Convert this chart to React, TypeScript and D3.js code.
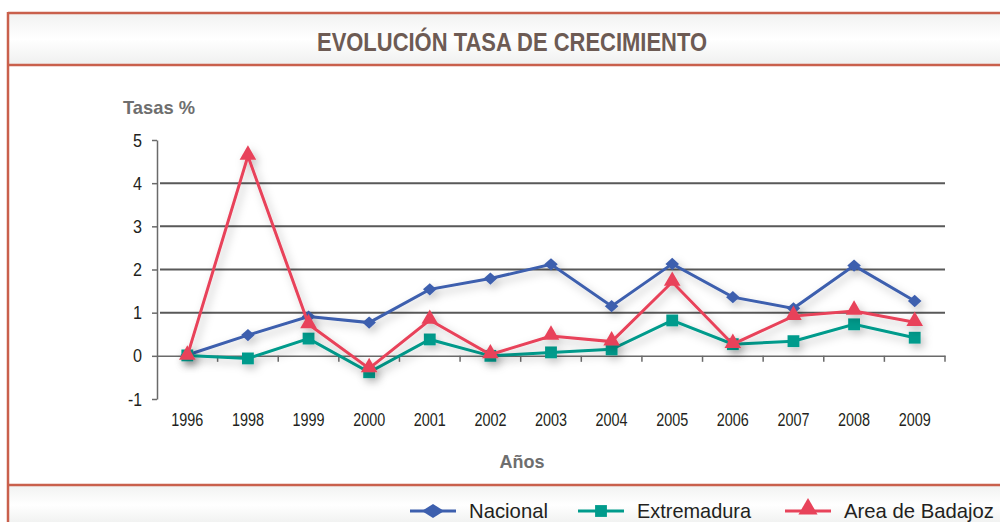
import React, { useEffect, useRef } from 'react';
import * as d3 from 'd3';

const years = ['1996', '1998', '1999', '2000', '2001', '2002', '2003', '2004', '2005', '2006', '2007', '2008', '2009'];
const nacional = [0.02, 0.48, 0.91, 0.77, 1.54, 1.79, 2.12, 1.15, 2.13, 1.36, 1.1, 2.09, 1.27];
const extremadura = [0.01, -0.06, 0.4, -0.38, 0.38, 0.0, 0.08, 0.15, 0.82, 0.27, 0.34, 0.73, 0.42];
const badajoz = [0.0, 4.63, 0.73, -0.29, 0.83, 0.03, 0.46, 0.33, 1.71, 0.27, 0.92, 1.04, 0.78];
const yTicks = [-1, 0, 1, 2, 3, 4, 5];
const gridValues = [1, 2, 3, 4];

const seriesNames = ['Nacional', 'Extremadura', 'Area de Badajoz'];
const seriesColors = ['#3d5fae', '#009b8c', '#e8435a'];

const FONT = "'Liberation Sans', Arial, sans-serif";

// squeezes text into a given width, the source font is a condensed one
const narrow = (sel: any, w: number) => sel.attr('textLength', w).attr('lengthAdjust', 'spacingAndGlyphs');

export default function App() {
  const svgRef = useRef<SVGSVGElement>(null);

  useEffect(() => {
    const svg = d3.select(svgRef.current);
    svg.selectAll('*').remove();

    const W = 1000, H = 522;
    const frame = '#c9604c';

    const defs = svg.append('defs');
    const f = defs.append('filter').attr('id', 'shadow').attr('x', '-20%').attr('y', '-20%').attr('width', '140%').attr('height', '140%');
    f.append('feDropShadow').attr('dx', 3).attr('dy', 4).attr('stdDeviation', 4).attr('flood-color', '#000').attr('flood-opacity', 0.25);

    const bandGrad = defs.append('linearGradient').attr('id', 'band').attr('x1', 0).attr('x2', 0).attr('y1', 0).attr('y2', 1);
    bandGrad.append('stop').attr('offset', '0%').attr('stop-color', '#f1f2f1');
    bandGrad.append('stop').attr('offset', '50%').attr('stop-color', '#ffffff');
    bandGrad.append('stop').attr('offset', '100%').attr('stop-color', '#eff0ef');

    svg.append('rect').attr('width', W).attr('height', H).attr('fill', '#ffffff');
    svg.append('rect').attr('x', 8).attr('y', 13).attr('width', W).attr('height', 52).attr('fill', 'url(#band)');
    svg.append('rect').attr('x', 8).attr('y', 485).attr('width', W).attr('height', 40).attr('fill', 'url(#band)');

    svg.append('line').attr('x1', 8).attr('x2', W).attr('y1', 13).attr('y2', 13).attr('stroke', frame).attr('stroke-width', 2.5);
    svg.append('line').attr('x1', 8).attr('x2', W).attr('y1', 65).attr('y2', 65).attr('stroke', frame).attr('stroke-width', 2.5);
    svg.append('line').attr('x1', 8).attr('x2', W).attr('y1', 485).attr('y2', 485).attr('stroke', frame).attr('stroke-width', 2.5);
    svg.append('line').attr('x1', 8).attr('x2', 8).attr('y1', 12).attr('y2', H).attr('stroke', frame).attr('stroke-width', 2.5);

    narrow(svg.append('text')
      .attr('x', 512).attr('y', 51)
      .attr('text-anchor', 'middle')
      .attr('font-family', FONT).attr('font-weight', 'bold').attr('font-size', 25)
      .attr('fill', '#6d5b54')
      .text('EVOLUCIÓN TASA DE CRECIMIENTO'), 390);

    const x = d3.scaleBand().domain(years).range([157, 945]);
    const y = d3.scaleLinear().domain([-1, 5]).range([399, 140]);

    svg.append('g').selectAll('line').data(gridValues).enter().append('line')
      .attr('x1', 160).attr('x2', 945)
      .attr('y1', d => y(d)).attr('y2', d => y(d))
      .attr('stroke', '#595959').attr('stroke-width', 2);

    // y axis
    const yAxis = svg.append('g').attr('transform', 'translate(157,0)')
      .call(d3.axisLeft(y).tickValues(yTicks).tickSize(5).tickSizeOuter(0).tickFormat(d => String(d)));
    yAxis.select('.domain').attr('stroke', '#6a6a6a').attr('stroke-width', 1.5);
    yAxis.selectAll('.tick line').attr('stroke', '#6a6a6a').attr('stroke-width', 1.5);
    yAxis.selectAll('.tick text').attr('font-family', FONT).attr('font-size', 19).attr('fill', '#231f20').attr('x', -15)
      .attr('textLength', (d: any) => (d < 0 ? 14 : 9)).attr('lengthAdjust', 'spacingAndGlyphs');

    // x axis at zero
    const xAxis = svg.append('g').attr('transform', `translate(0,${y(0)})`)
      .call(d3.axisBottom(x).tickSize(0).tickSizeOuter(0));
    xAxis.select('.domain').attr('stroke', '#6a6a6a').attr('stroke-width', 1.5);
    narrow(xAxis.selectAll('.tick text').attr('font-family', FONT).attr('font-size', 18).attr('fill', '#231f20')
      .attr('y', y(-1) - y(0) + 14), 32);
    svg.append('g').selectAll('line').data(years).enter().append('line')
      .attr('x1', d => (x(d) as number) + x.bandwidth())
      .attr('x2', d => (x(d) as number) + x.bandwidth())
      .attr('y1', y(0)).attr('y2', y(0) + 6)
      .attr('stroke', '#6a6a6a').attr('stroke-width', 1.5);

    narrow(svg.append('text').attr('x', 123).attr('y', 114)
      .attr('font-family', FONT).attr('font-weight', 'bold').attr('font-size', 19).attr('fill', '#6e6e6e')
      .text('Tasas %'), 72);
    narrow(svg.append('text').attr('x', 522).attr('y', 468).attr('text-anchor', 'middle')
      .attr('font-family', FONT).attr('font-weight', 'bold').attr('font-size', 19).attr('fill', '#6e6e6e')
      .text('Años'), 45);

    const data = [nacional, extremadura, badajoz];
    const cx = (i: number) => (x(years[i]) as number) + x.bandwidth() / 2;
    const line = d3.line<number>().x((_, i) => cx(i)).y(d => y(d));

    const marker = (s: number) => {
      if (s === 0) return { d: d3.symbol().type(d3.symbolSquare).size(76)(), t: ' rotate(45)' };
      if (s === 1) return { d: d3.symbol().type(d3.symbolSquare).size(140)(), t: '' };
      return { d: d3.symbol().type(d3.symbolTriangle).size(120)(), t: '' };
    };

    data.forEach((vals, s) => {
      const g = svg.append('g').attr('filter', 'url(#shadow)');
      g.append('path').datum(vals).attr('d', line).attr('fill', 'none')
        .attr('stroke', seriesColors[s]).attr('stroke-width', 3);
      const m = marker(s);
      g.selectAll('path.m').data(vals).enter().append('path').attr('class', 'm')
        .attr('d', m.d as string)
        .attr('transform', (d, i) => `translate(${cx(i)},${y(d) - (s === 2 ? 1 : 0)})${s === 0 ? ' scale(1.1,1)' : ''}${m.t}`)
        .attr('fill', seriesColors[s]);
    });

    // legend
    const legendX = [410, 578, 785];
    const legendW = [79, 114, 150];
    const legend = svg.append('g');
    seriesNames.forEach((name, s) => {
      const lx = legendX[s];
      legend.append('line').attr('x1', lx).attr('x2', lx + 46).attr('y1', 511).attr('y2', 511)
        .attr('stroke', seriesColors[s]).attr('stroke-width', 3);
      const m = marker(s);
      legend.append('path')
        .attr('d', m.d as string)
        .attr('transform', `translate(${lx + 23},${s === 2 ? 509 : 511})${s === 0 ? ' scale(1.8,1.15)' : s === 2 ? ' scale(1.15,1.15)' : ''}${m.t}`)
        .attr('fill', seriesColors[s]);
      narrow(legend.append('text').attr('x', lx + 59).attr('y', 518)
        .attr('font-family', FONT).attr('font-size', 21).attr('fill', '#231f20')
        .text(name), legendW[s]);
    });
  }, []);

  return (
    <svg ref={svgRef} width={1000} height={522}
      style={{ position: 'absolute', left: 0, top: 0, display: 'block' }} />
  );
}
